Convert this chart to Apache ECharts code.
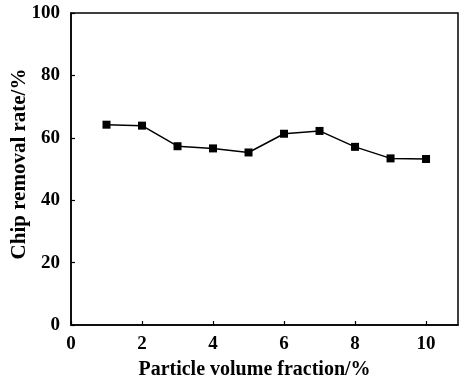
<!DOCTYPE html>
<html><head><meta charset="utf-8">
<script src="https://cdn.jsdelivr.net/npm/echarts@6/dist/echarts.min.js"></script>
<style>html,body{margin:0;padding:0;background:#fff}#c{width:468px;height:383px}</style>
</head><body><div id="c"></div>
<script>
const xValues = [1, 2, 3, 4, 5, 6, 7, 8, 9, 10];
const chipRemovalRate = [64.2, 63.9, 57.3, 56.6, 55.3, 61.3, 62.2, 57.1, 53.4, 53.2];
const xName = 'Particle volume fraction/%';
const yName = 'Chip removal rate/%';
const font = '"Liberation Serif", "Times New Roman", serif';
const chart = echarts.init(document.getElementById('c'));
const axisCommon = {
  nameLocation: 'middle',
  nameMoveOverlap: false,
  axisLine: {show: true, onZero: false, lineStyle: {color: '#000', width: 1.5}},
  axisTick: {show: true, inside: true, length: 4, lineStyle: {color: '#000', width: 1.2}},
  axisLabel: {fontFamily: font, fontWeight: 'bold', fontSize: 19, color: '#000'},
  splitLine: {show: false}
};
chart.setOption({
  animation: false,
  grid: {left: 71, right: 10, top: 13, bottom: 58, containLabel: false, outerBoundsMode: 'none',
    show: true, borderColor: '#000', borderWidth: 1.5},
  xAxis: Object.assign({}, axisCommon, {
    type: 'value', min: 0, max: 10.9, interval: 2, name: xName, nameGap: 35,
    nameTextStyle: {fontFamily: font, fontWeight: 'bold', fontSize: 20, color: '#000', padding: [0, 20, 0, 0]},
    axisLabel: Object.assign({}, axisCommon.axisLabel, {margin: 10, showMaxLabel: false,
      formatter: v => (v % 2 === 0 ? String(v) : '')})
  }),
  yAxis: Object.assign({}, axisCommon, {
    type: 'value', min: 0, max: 100, interval: 20, name: yName, nameGap: 41,
    nameTextStyle: {fontFamily: font, fontWeight: 'bold', fontSize: 21, color: '#000', padding: [0, 0, 0, 10]},
    axisLabel: Object.assign({}, axisCommon.axisLabel, {margin: 11})
  }),
  series: [{
    type: 'line',
    data: xValues.map((x, i) => [x, chipRemovalRate[i]]),
    symbol: 'rect', symbolSize: 8,
    itemStyle: {color: '#000'},
    lineStyle: {color: '#000', width: 1.5}
  }]
});
</script></body></html>
